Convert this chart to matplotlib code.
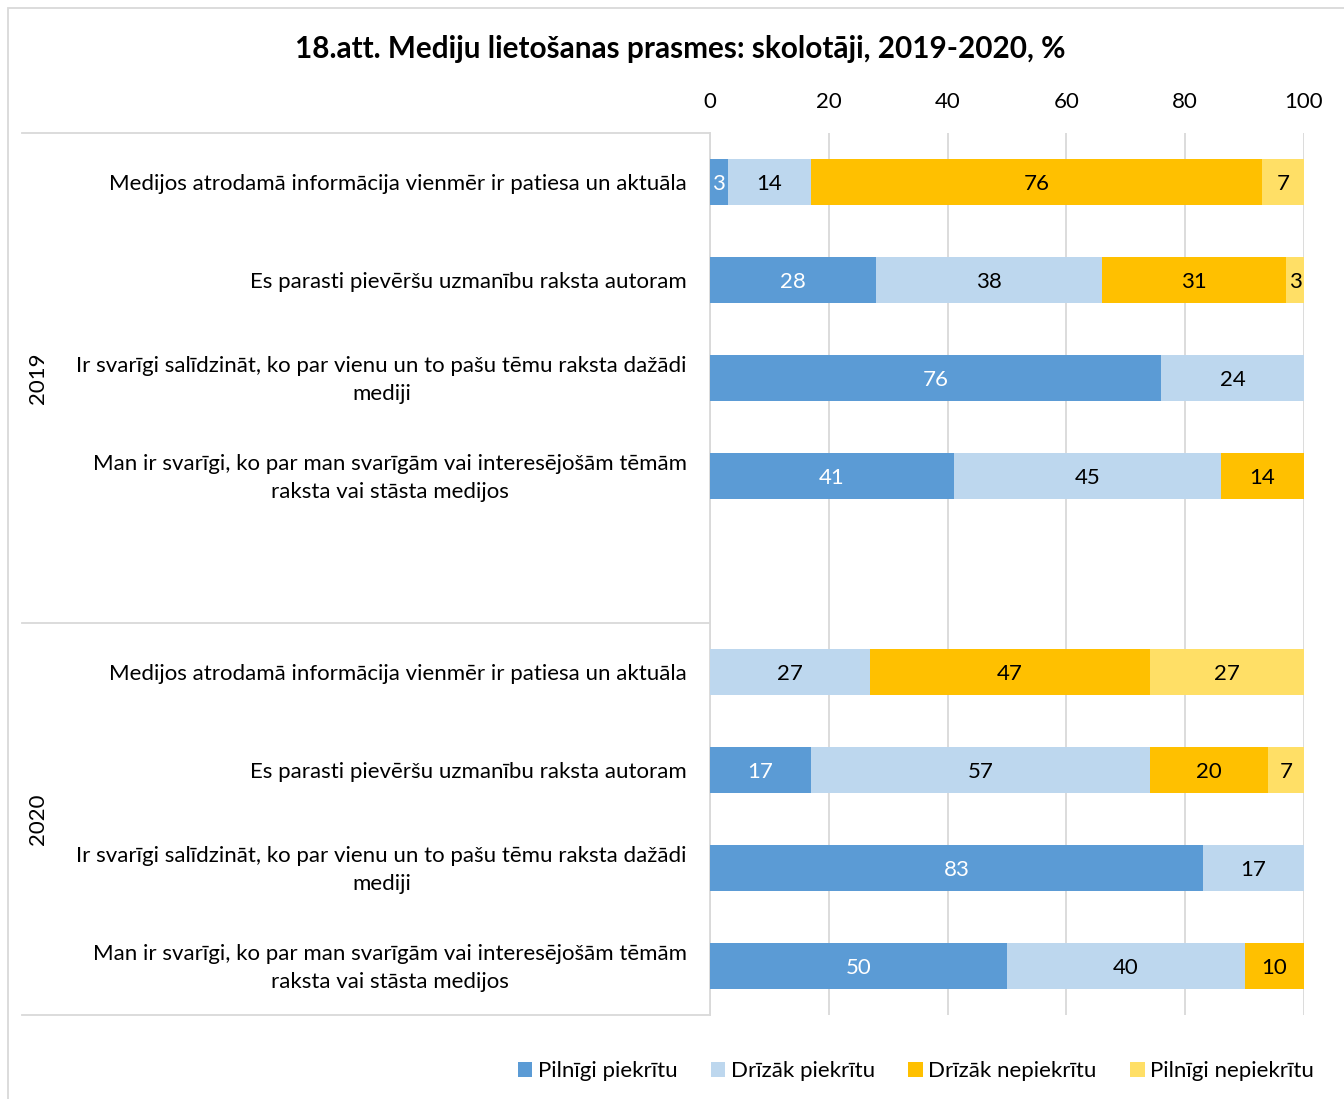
import matplotlib
matplotlib.use("Agg")
import matplotlib.pyplot as plt
from matplotlib.transforms import blended_transform_factory
from matplotlib.patches import Rectangle
import numpy as np

plt.rcParams['font.family'] = ['Lato', 'DejaVu Sans']

title = "18.att. Mediju lietošanas prasmes: skolotāji, 2019-2020, %"
statements = [
    "Medijos atrodamā informācija vienmēr ir patiesa un aktuāla",
    "Es parasti pievēršu uzmanību raksta autoram",
    "Ir svarīgi salīdzināt, ko par vienu un to pašu tēmu raksta dažādi\nmediji",
    "Man ir svarīgi, ko par man svarīgām vai interesējošām tēmām\nraksta vai stāsta medijos",
]
groups = ["2019", "2020"]
series_names = ["Pilnīgi piekrītu", "Drīzāk piekrītu", "Drīzāk nepiekrītu", "Pilnīgi nepiekrītu"]
colors = ["#5B9BD5", "#BDD7EE", "#FFC000", "#FFDF66"]

# values per series, rows: 2019 (4 statements), 2020 (4 statements)
pilnigi_piekritu   = [3, 28, 76, 41, 0, 17, 83, 50]
drizak_piekritu    = [14, 38, 24, 45, 27, 57, 17, 40]
drizak_nepiekritu  = [76, 31, 0, 14, 47, 20, 0, 10]
pilnigi_nepiekritu = [7, 3, 0, 0, 27, 7, 0, 0]
series = [pilnigi_piekritu, drizak_piekritu, drizak_nepiekritu, pilnigi_nepiekritu]

W, H = 1344, 1099
fig = plt.figure(figsize=(W / 100, H / 100), dpi=100)
ax = fig.add_axes([710 / W, 1 - 1015 / H, (1304 - 710) / W, (1015 - 133) / H])

FS = 16
DY = 0.02  # small downward nudge for text centring

# row positions: 2019 rows 0-3, empty row 4, 2020 rows 5-8
ypos = [0, 1, 2, 3, 5, 6, 7, 8]
left = np.zeros(len(ypos))
for name, vals, col in zip(series_names, series, colors):
    vals = np.array(vals, dtype=float)
    ax.barh(ypos, vals, left=left, height=0.47, color=col, label=name, zorder=3)
    for y, l, v in zip(ypos, left, vals):
        if v > 0:
            cx = l + v / 2
            if l + v > 100:
                cx = l + (100 - l) / 2
            tc = "white" if col == colors[0] else "black"
            ax.text(cx, y + DY, f"{int(v)}", ha="center", va="center",
                    fontsize=FS, color=tc, zorder=4)
    left += vals

ax.set_xlim(0, 100)
ax.set_ylim(8.5, -0.5)
ax.xaxis.tick_top()
ax.set_xticks([0, 20, 40, 60, 80, 100])
ax.tick_params(axis="x", length=0, labelsize=FS, pad=15)
ax.set_yticks([])
for s in ["top", "right", "bottom"]:
    ax.spines[s].set_visible(False)
ax.spines["left"].set_color("#D9D9D9")
ax.spines["left"].set_linewidth(1.3)
ax.grid(axis="x", color="#D9D9D9", linewidth=1.3, zorder=0)
ax.set_axisbelow(True)

# category labels
trans = blended_transform_factory(fig.transFigure, ax.transData)
labels_all = statements + statements
for y, lab in zip(ypos, labels_all):
    ax.text(687 / W, y + DY, lab, transform=trans, ha="right", va="center",
            multialignment="center", fontsize=FS, linespacing=1.55)

# group separators
for yb in [-0.5, 4.5, 8.5]:
    ax.plot([22 / W, 710 / W], [yb, yb], transform=trans, color="#D9D9D9",
            linewidth=1.3, clip_on=False)
# group labels
ax.text(38 / W, 2.0, groups[0], transform=trans, rotation=90, ha="center", va="center", fontsize=FS)
ax.text(38 / W, 6.5, groups[1], transform=trans, rotation=90, ha="center", va="center", fontsize=FS)

fig.text(680 / W, 1 - 49 / H, title, ha="center", va="center", fontsize=21.4, fontweight="bold")

handles, labs = ax.get_legend_handles_labels()
leg = fig.legend(handles, labs, loc="center", bbox_to_anchor=(916 / W, 1 - 1071 / H), ncol=4,
                 frameon=False, fontsize=FS, handlelength=0.65, handleheight=0.65,
                 handletextpad=0.25, columnspacing=1.5)

# outer frame
fig.patches.append(Rectangle((8 / W, -0.1), 1.2, 1 - 8 / H + 0.1, transform=fig.transFigure,
                             fill=False, edgecolor="#D9D9D9", linewidth=1.3))

fig.savefig("out.png", dpi=100)
